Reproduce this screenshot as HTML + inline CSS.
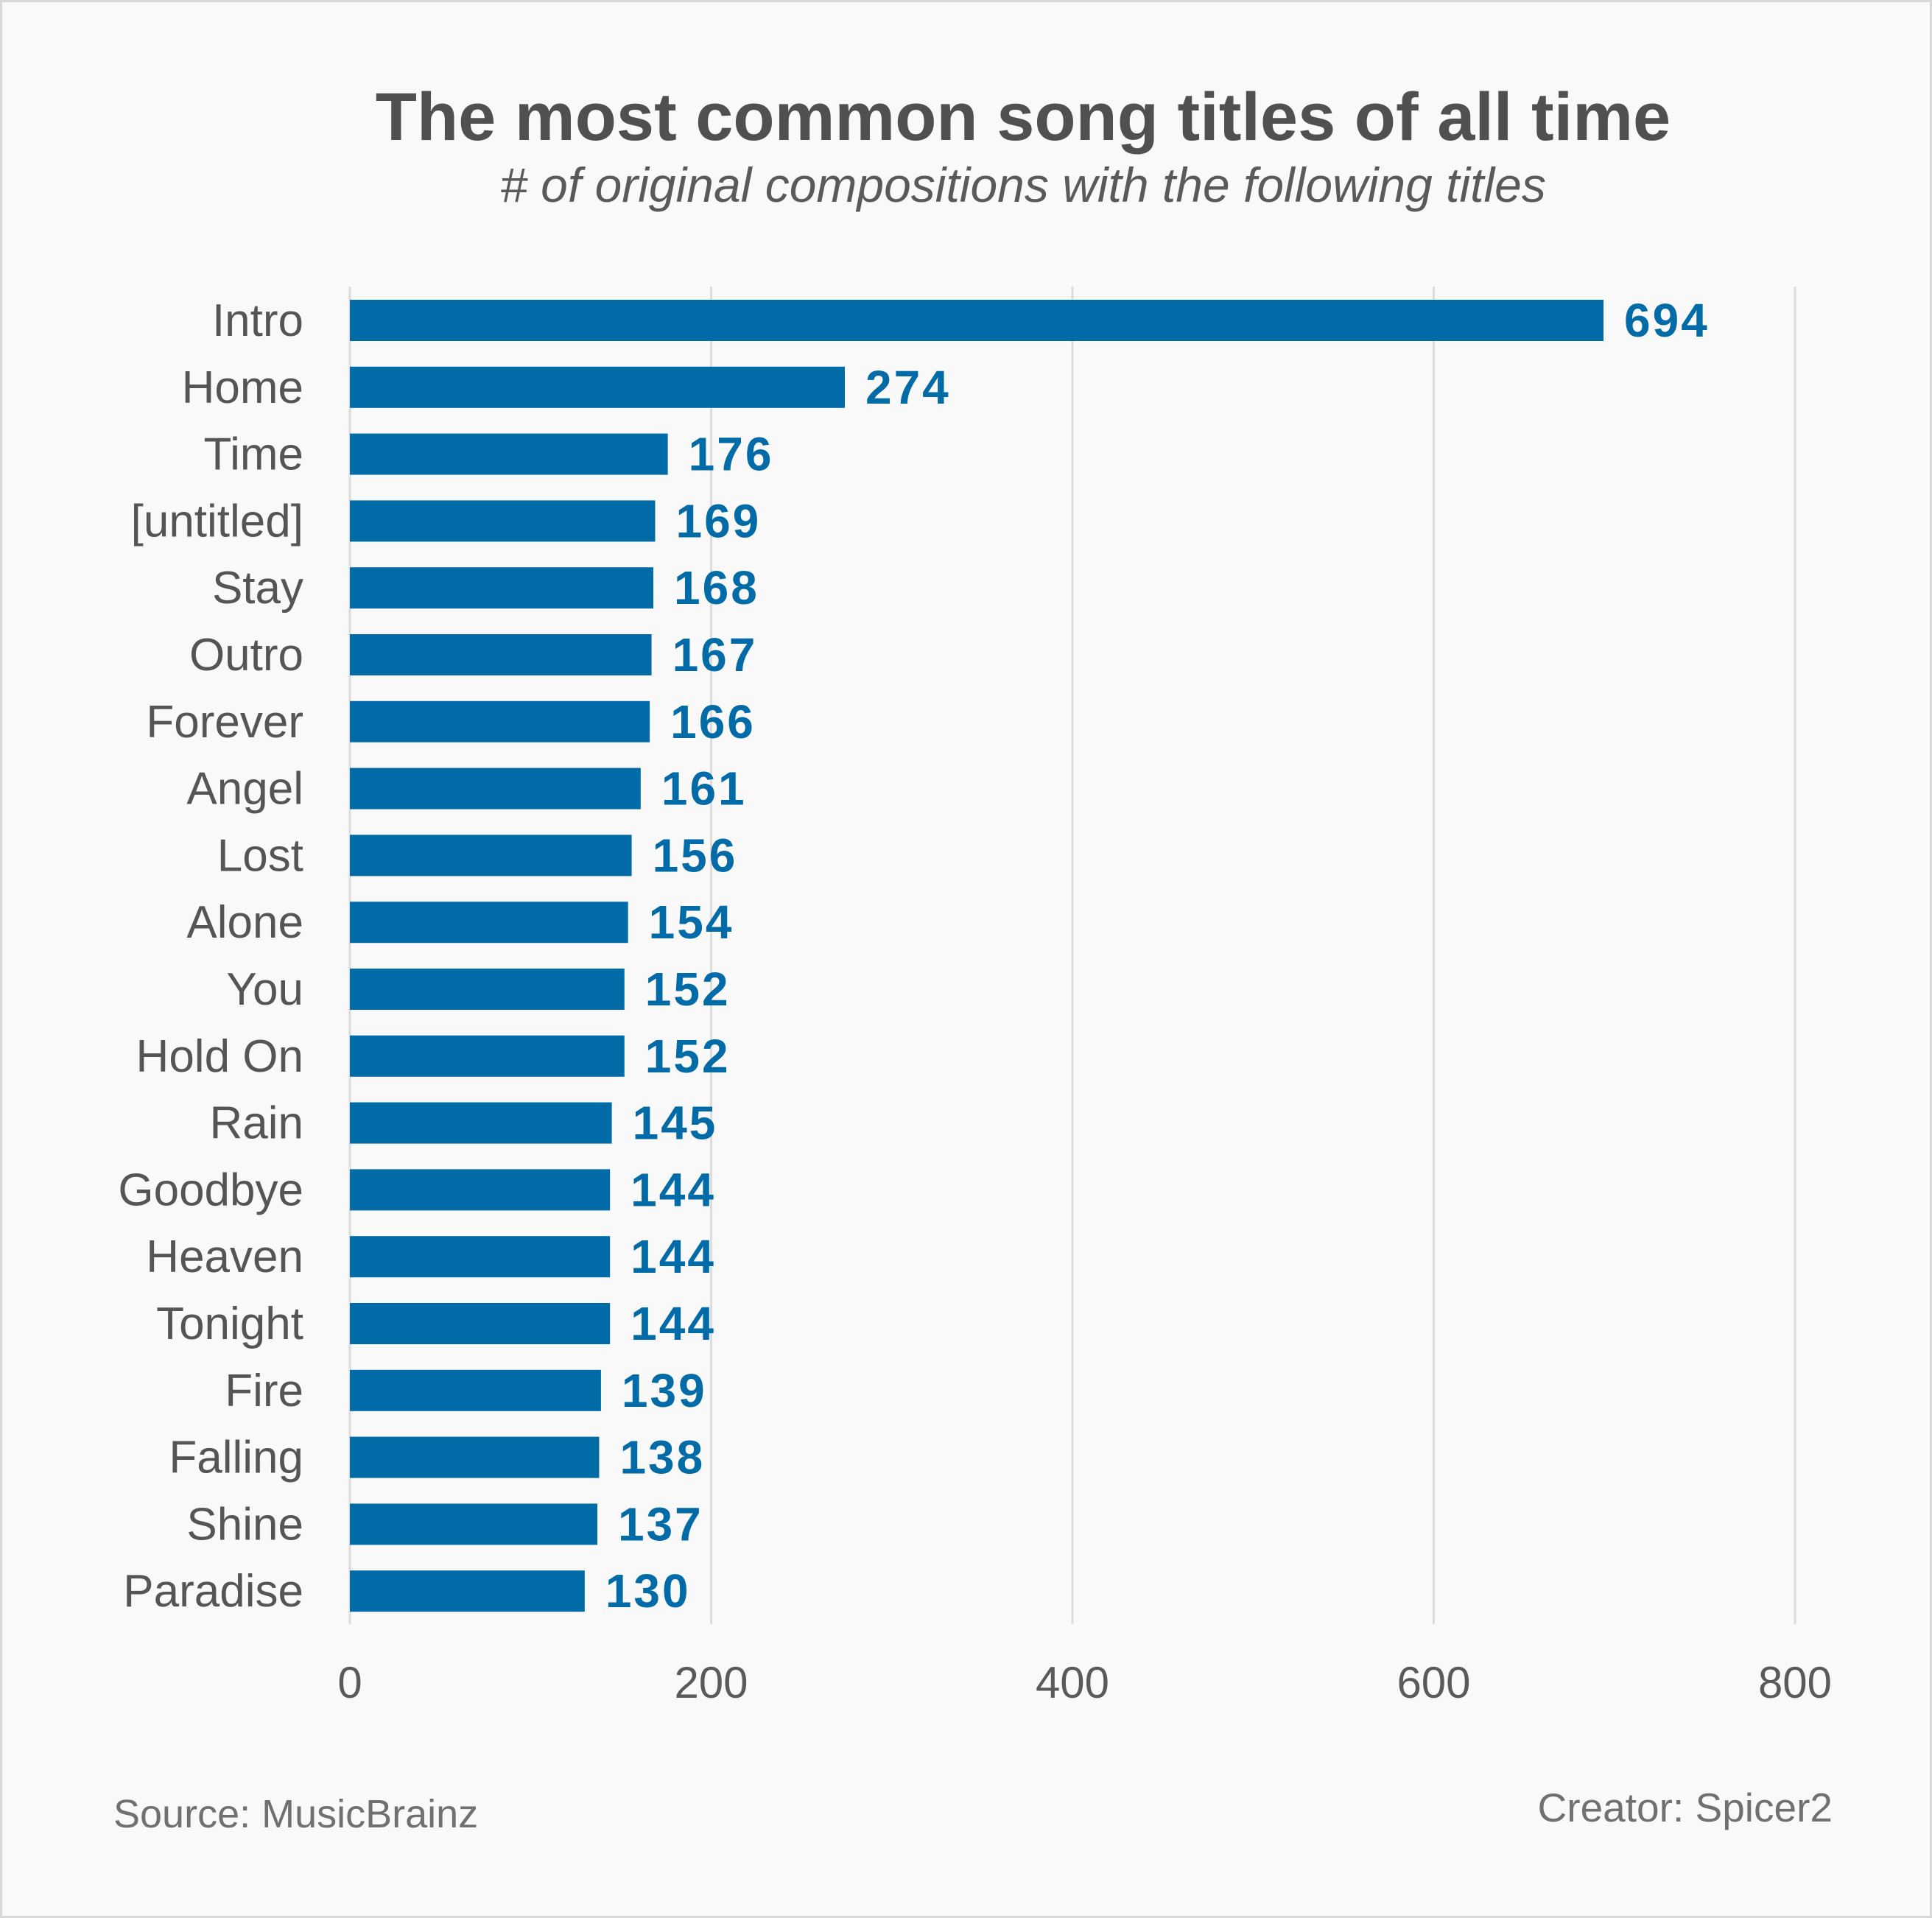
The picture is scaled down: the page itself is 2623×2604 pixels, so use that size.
<!DOCTYPE html>
<html><head><meta charset="utf-8">
<style>
html,body{margin:0;padding:0;background:#f9f9f9;}
svg{display:block;font-family:"Liberation Sans",sans-serif;}
</style></head>
<body>
<svg id="chart" width="2623" height="2604" viewBox="0 0 2623 2604">
<rect x="1.5" y="1.5" width="2620" height="2601" fill="#f9f9f9" stroke="#d8d8d8" stroke-width="3"/>
<text x="1389" y="190" text-anchor="middle" font-size="92" font-weight="bold" fill="#505050">The most common song titles of all time</text>
<text x="1389" y="274" text-anchor="middle" font-size="66" font-style="italic" fill="#5a5a5a"># of original compositions with the following titles</text>
<g id="grid"></g>
<g id="bars"></g>
<g id="ticks"></g>
<text x="154" y="2481" font-size="54" fill="#707070">Source: MusicBrainz</text>
<text x="2488" y="2473" text-anchor="end" font-size="55" fill="#707070">Creator: Spicer2</text>
</svg>
<script>
const categories=["Intro","Home","Time","[untitled]","Stay","Outro","Forever","Angel","Lost","Alone","You","Hold On","Rain","Goodbye","Heaven","Tonight","Fire","Falling","Shine","Paradise"];
const values=[694,274,176,169,168,167,166,161,156,154,152,152,145,144,144,144,139,138,137,130];
const tickValues=[0,200,400,600,800];
const NS="http://www.w3.org/2000/svg";
const x0=475,x1=2437,xMax=800;
function xs(v){return x0+(x1-x0)*v/xMax;}
function yc(i){return 435+i*90.8;}
const grid=document.getElementById('grid'),bars=document.getElementById('bars'),ticks=document.getElementById('ticks');
function mk(tag,attrs,parent){const e=document.createElementNS(NS,tag);for(const k in attrs)e.setAttribute(k,attrs[k]);parent.appendChild(e);return e;}
tickValues.forEach(t=>{
  const l=mk('line',{x1:xs(t),x2:xs(t),y1:389,y2:2205,stroke:'#dcdcdc','stroke-width':3},grid);
  
  
  const tx=mk('text',{x:xs(t),y:2305,'text-anchor':'middle','font-size':60,fill:'#5a5a5a'},ticks);
  tx.textContent=t;
  
  
});
categories.forEach((c,i)=>{
  const y=yc(i);
  const r=mk('rect',{x:x0,y:y-28,width:xs(values[i])-x0,height:56,fill:'#006ba6'},bars);
  
  
  const lb=mk('text',{x:412,y:y+21,'text-anchor':'end','font-size':62,fill:'#555'},bars);
  lb.textContent=c;
  
  
  const vl=mk('text',{x:xs(values[i])+28,y:y+22,'font-size':64,'font-weight':'bold',fill:'#006ba6','letter-spacing':3},bars);
  vl.textContent=values[i];
  
  
});
</script>
</body></html>
